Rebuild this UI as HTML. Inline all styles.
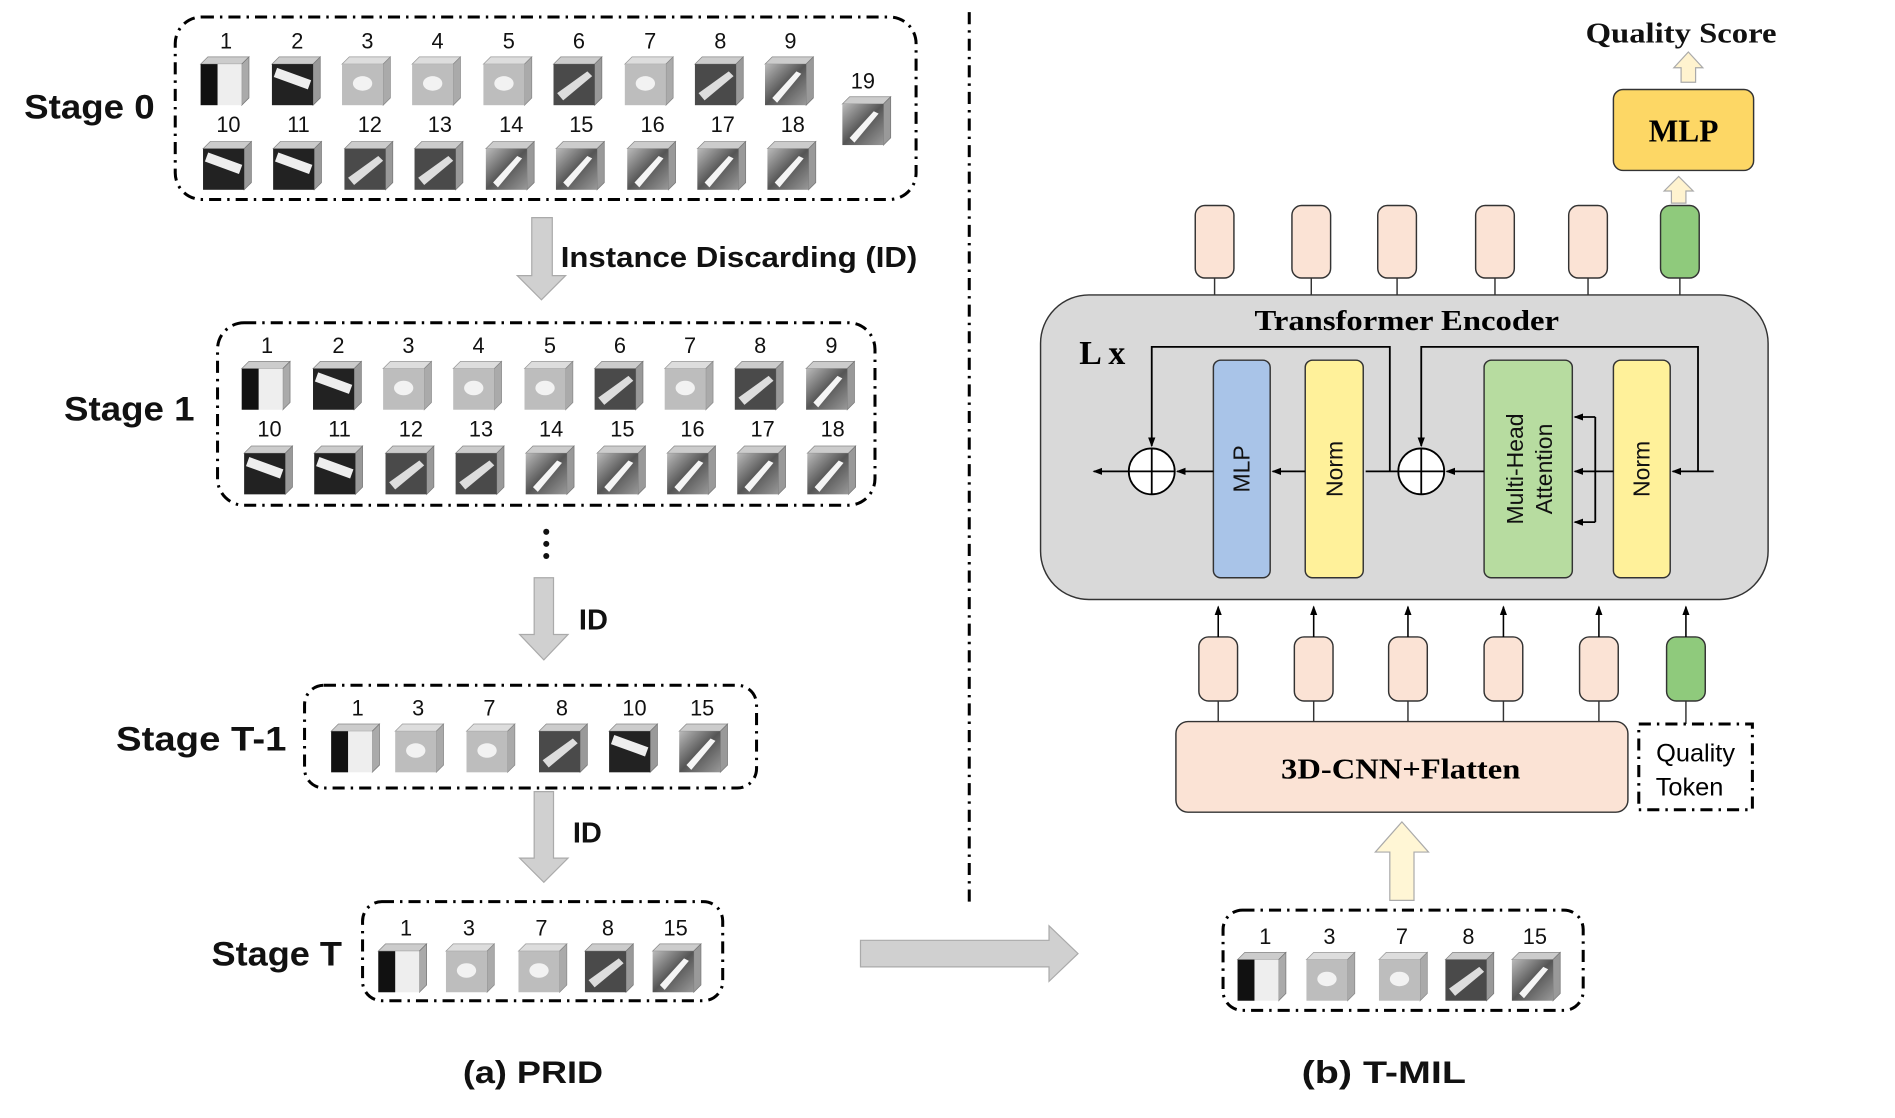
<!DOCTYPE html>
<html><head><meta charset="utf-8"><style>html,body{margin:0;padding:0;background:#fff}svg{display:block}</style></head>
<body>
<svg width="1895" height="1118" viewBox="0 0 1568 925" xmlns="http://www.w3.org/2000/svg" font-family="Liberation Sans, sans-serif">
<defs>
<marker id="ah" markerWidth="8" markerHeight="8" refX="7" refY="4" orient="auto" markerUnits="userSpaceOnUse"><path d="M0,1 L8,4 L0,7z" fill="#000"/></marker>
<linearGradient id="g1" x1="0" y1="0" x2="1" y2="1"><stop offset="0" stop-color="#bbb"/><stop offset="0.5" stop-color="#555"/><stop offset="1" stop-color="#999"/></linearGradient>
<g id="cubeA"><path d="M0,6 L6,0 L40,0 L34,6z" fill="#ccc" stroke="#888" stroke-width="0.6"/><path d="M34,6 L40,0 L40,34 L34,40z" fill="#999" stroke="#777" stroke-width="0.6"/><rect x="0" y="6" width="34" height="34" fill="#4a4a4a"/><path d="M3,30 L28,12 L32,16 L8,36z" fill="#ddd"/></g>
<g id="cubeB"><path d="M0,6 L6,0 L40,0 L34,6z" fill="#ddd" stroke="#999" stroke-width="0.6"/><path d="M34,6 L40,0 L40,34 L34,40z" fill="#aaa" stroke="#888" stroke-width="0.6"/><rect x="0" y="6" width="34" height="34" fill="#bdbdbd"/><ellipse cx="17" cy="22" rx="8" ry="6" fill="#f2f2f2"/></g>
<g id="cubeC"><path d="M0,6 L6,0 L40,0 L34,6z" fill="#ccc" stroke="#888" stroke-width="0.6"/><path d="M34,6 L40,0 L40,34 L34,40z" fill="#999" stroke="#777" stroke-width="0.6"/><rect x="0" y="6" width="34" height="34" fill="#222"/><rect x="2" y="14" width="30" height="8" fill="#eee" transform="rotate(20 17 18)"/></g>
<g id="cubeD"><path d="M0,6 L6,0 L40,0 L34,6z" fill="#ccc" stroke="#888" stroke-width="0.6"/><path d="M34,6 L40,0 L40,34 L34,40z" fill="#aaa" stroke="#777" stroke-width="0.6"/><rect x="0" y="6" width="34" height="34" fill="#eee"/><rect x="0" y="6" width="14" height="34" fill="#111"/></g>
<g id="cubeE"><path d="M0,6 L6,0 L40,0 L34,6z" fill="#ccc" stroke="#888" stroke-width="0.6"/><path d="M34,6 L40,0 L40,34 L34,40z" fill="#999" stroke="#777" stroke-width="0.6"/><rect x="0" y="6" width="34" height="34" fill="url(#g1)"/><path d="M6,34 L26,12 L30,14 L10,38z" fill="#f5f5f5"/></g>
</defs>
<g fill="none" stroke="#000" stroke-width="2.5" stroke-dasharray="10,5,2,5">
<rect x="145" y="14" width="613" height="151" rx="22"/>
<rect x="180" y="267" width="544" height="151" rx="22"/>
<rect x="252" y="567" width="374" height="85" rx="16"/>
<rect x="300" y="746" width="298" height="82" rx="16"/>
<rect x="1012" y="753" width="298" height="83" rx="16"/>
<line x1="802" y1="10" x2="802" y2="750"/>
</g>
<g font-size="18" fill="#111" text-anchor="middle">
<text x="187" y="40">1</text><text x="246" y="40">2</text><text x="304" y="40">3</text><text x="362" y="40">4</text><text x="421" y="40">5</text><text x="479" y="40">6</text><text x="538" y="40">7</text><text x="596" y="40">8</text><text x="654" y="40">9</text>
<text x="189" y="109">10</text><text x="247" y="109">11</text><text x="306" y="109">12</text><text x="364" y="109">13</text><text x="423" y="109">14</text><text x="481" y="109">15</text><text x="540" y="109">16</text><text x="598" y="109">17</text><text x="656" y="109">18</text><text x="714" y="73">19</text>
<text x="221" y="292">1</text><text x="280" y="292">2</text><text x="338" y="292">3</text><text x="396" y="292">4</text><text x="455" y="292">5</text><text x="513" y="292">6</text><text x="571" y="292">7</text><text x="629" y="292">8</text><text x="688" y="292">9</text>
<text x="223" y="361">10</text><text x="281" y="361">11</text><text x="340" y="361">12</text><text x="398" y="361">13</text><text x="456" y="361">14</text><text x="515" y="361">15</text><text x="573" y="361">16</text><text x="631" y="361">17</text><text x="689" y="361">18</text>
<text x="296" y="592">1</text><text x="346" y="592">3</text><text x="405" y="592">7</text><text x="465" y="592">8</text><text x="525" y="592">10</text><text x="581" y="592">15</text>
<text x="336" y="774">1</text><text x="388" y="774">3</text><text x="448" y="774">7</text><text x="503" y="774">8</text><text x="559" y="774">15</text>
<text x="1047" y="781">1</text><text x="1100" y="781">3</text><text x="1160" y="781">7</text><text x="1215" y="781">8</text><text x="1270" y="781">15</text>
</g>
<use href="#cubeD" x="166" y="47"/><use href="#cubeC" x="225" y="47"/><use href="#cubeB" x="283" y="47"/><use href="#cubeB" x="341" y="47"/><use href="#cubeB" x="400" y="47"/><use href="#cubeA" x="458" y="47"/><use href="#cubeB" x="517" y="47"/><use href="#cubeA" x="575" y="47"/><use href="#cubeE" x="633" y="47"/>
<use href="#cubeC" x="168" y="117"/><use href="#cubeC" x="226" y="117"/><use href="#cubeA" x="285" y="117"/><use href="#cubeA" x="343" y="117"/><use href="#cubeE" x="402" y="117"/><use href="#cubeE" x="460" y="117"/><use href="#cubeE" x="519" y="117"/><use href="#cubeE" x="577" y="117"/><use href="#cubeE" x="635" y="117"/><use href="#cubeE" x="697" y="80"/>
<use href="#cubeD" x="200" y="299"/><use href="#cubeC" x="259" y="299"/><use href="#cubeB" x="317" y="299"/><use href="#cubeB" x="375" y="299"/><use href="#cubeB" x="434" y="299"/><use href="#cubeA" x="492" y="299"/><use href="#cubeB" x="550" y="299"/><use href="#cubeA" x="608" y="299"/><use href="#cubeE" x="667" y="299"/>
<use href="#cubeC" x="202" y="369"/><use href="#cubeC" x="260" y="369"/><use href="#cubeA" x="319" y="369"/><use href="#cubeA" x="377" y="369"/><use href="#cubeE" x="435" y="369"/><use href="#cubeE" x="494" y="369"/><use href="#cubeE" x="552" y="369"/><use href="#cubeE" x="610" y="369"/><use href="#cubeE" x="668" y="369"/>
<use href="#cubeD" x="274" y="599"/><use href="#cubeB" x="327" y="599"/><use href="#cubeB" x="386" y="599"/><use href="#cubeA" x="446" y="599"/><use href="#cubeC" x="504" y="599"/><use href="#cubeE" x="562" y="599"/>
<use href="#cubeD" x="313" y="781"/><use href="#cubeB" x="369" y="781"/><use href="#cubeB" x="429" y="781"/><use href="#cubeA" x="484" y="781"/><use href="#cubeE" x="540" y="781"/>
<use href="#cubeD" x="1024" y="788"/><use href="#cubeB" x="1081" y="788"/><use href="#cubeB" x="1141" y="788"/><use href="#cubeA" x="1196" y="788"/><use href="#cubeE" x="1251" y="788"/>
<g font-weight="bold" font-size="28" fill="#111" lengthAdjust="spacingAndGlyphs">
<text x="20" y="98" textLength="108" lengthAdjust="spacingAndGlyphs">Stage 0</text><text x="53" y="348" textLength="108" lengthAdjust="spacingAndGlyphs">Stage 1</text><text x="96" y="621" textLength="141" lengthAdjust="spacingAndGlyphs">Stage T-1</text><text x="175" y="799" textLength="108" lengthAdjust="spacingAndGlyphs">Stage T</text>
</g>
<g font-size="24" fill="#111" font-weight="bold">
<text x="464" y="221" textLength="295" lengthAdjust="spacingAndGlyphs">Instance Discarding (ID)</text><text x="479" y="521">ID</text><text x="474" y="697">ID</text>
</g>
<g fill="#111"><circle cx="452" cy="440" r="2.5"/><circle cx="452" cy="450" r="2.5"/><circle cx="452" cy="460" r="2.5"/></g>
<g fill="#d0d0d0" stroke="#aaa" stroke-width="1">
<path d="M440,180 L457,180 L457,228 L468,228 L448,248 L428,228 L440,228z"/>
<path d="M442,478 L458,478 L458,525 L470,525 L450,546 L430,525 L442,525z"/>
<path d="M442,655 L458,655 L458,710 L470,710 L450,730 L430,710 L442,710z"/>
<path d="M712,778 L868,778 L868,766 L892,789 L868,812 L868,800 L712,800z"/>
</g>
<g font-size="26" fill="#111" font-weight="bold"><text x="383" y="896" textLength="116" lengthAdjust="spacingAndGlyphs">(a) PRID</text><text x="1077" y="896" textLength="136" lengthAdjust="spacingAndGlyphs">(b) T-MIL</text></g>
<text x="1312" y="35" font-size="24" font-family="Liberation Serif, serif" font-weight="bold" fill="#111" textLength="158" lengthAdjust="spacingAndGlyphs">Quality Score</text>
<path d="M1391,68 L1391,56 L1385,56 L1397,43 L1409,56 L1403,56 L1403,68z" fill="#fff3cf" stroke="#aaa"/>
<rect x="1335" y="74" width="116" height="67" rx="8" fill="#fdd765" stroke="#333" stroke-width="1.2"/>
<text x="1393" y="117" font-family="Liberation Serif, serif" font-weight="bold" font-size="26" text-anchor="middle">MLP</text>
<path d="M1383,168 L1383,158 L1377,158 L1389,146 L1401,158 L1395,158 L1395,168z" fill="#fff3cf" stroke="#aaa"/>
<g stroke="#333" stroke-width="1.2">
<rect x="989" y="170" width="32" height="60" rx="8" fill="#fbe3d5"/><rect x="1069" y="170" width="32" height="60" rx="8" fill="#fbe3d5"/><rect x="1140" y="170" width="32" height="60" rx="8" fill="#fbe3d5"/><rect x="1221" y="170" width="32" height="60" rx="8" fill="#fbe3d5"/><rect x="1298" y="170" width="32" height="60" rx="8" fill="#fbe3d5"/><rect x="1374" y="170" width="32" height="60" rx="8" fill="#8fca7c"/>
<line x1="1005" y1="230" x2="1005" y2="244"/><line x1="1085" y1="230" x2="1085" y2="244"/><line x1="1156" y1="230" x2="1156" y2="244"/><line x1="1237" y1="230" x2="1237" y2="244"/><line x1="1314" y1="230" x2="1314" y2="244"/><line x1="1390" y1="230" x2="1390" y2="244"/>
<rect x="861" y="244" width="602" height="252" rx="40" fill="#d9d9d9"/>
<rect x="1004" y="298" width="47" height="180" rx="6" fill="#a9c4e8"/>
<rect x="1080" y="298" width="48" height="180" rx="6" fill="#fff19a"/>
<rect x="1228" y="298" width="73" height="180" rx="6" fill="#b7dca0"/>
<rect x="1335" y="298" width="47" height="180" rx="6" fill="#fff19a"/>
</g>
<text x="1038" y="273" font-family="Liberation Serif, serif" font-weight="bold" font-size="24" textLength="252" lengthAdjust="spacingAndGlyphs">Transformer Encoder</text>
<text x="893" y="301" font-family="Liberation Serif, serif" font-weight="bold" font-size="28">L x</text>
<g font-size="19" fill="#111" text-anchor="middle">
<text transform="translate(1034,388) rotate(-90)">MLP</text>
<text transform="translate(1111,388) rotate(-90)">Norm</text>
<text transform="translate(1260,388) rotate(-90)">Multi-Head</text>
<text transform="translate(1284,388) rotate(-90)">Attention</text>
<text transform="translate(1365,388) rotate(-90)">Norm</text>
</g>
<g stroke="#000" stroke-width="1.5" fill="none">
<circle cx="953" cy="390" r="19" fill="#fff"/><line x1="934" y1="390" x2="972" y2="390"/><line x1="953" y1="371" x2="953" y2="409"/>
<circle cx="1176" cy="390" r="19" fill="#fff"/><line x1="1157" y1="390" x2="1195" y2="390"/><line x1="1176" y1="371" x2="1176" y2="409"/>
<line x1="1418" y1="390" x2="1384" y2="390" marker-end="url(#ah)"/>
<polyline points="1405,390 1405,287 1176,287 1176,369" marker-end="url(#ah)"/>
<line x1="1335" y1="390" x2="1303" y2="390" marker-end="url(#ah)"/>
<line x1="1320" y1="345" x2="1320" y2="432"/>
<line x1="1320" y1="345" x2="1303" y2="345" marker-end="url(#ah)"/>
<line x1="1320" y1="432" x2="1303" y2="432" marker-end="url(#ah)"/>
<line x1="1228" y1="390" x2="1197" y2="390" marker-end="url(#ah)"/>
<line x1="1157" y1="390" x2="1130" y2="390"/>
<line x1="1080" y1="390" x2="1053" y2="390" marker-end="url(#ah)"/>
<polyline points="1150,390 1150,287 953,287 953,369" marker-end="url(#ah)"/>
<line x1="1004" y1="390" x2="974" y2="390" marker-end="url(#ah)"/>
<line x1="934" y1="390" x2="905" y2="390" marker-end="url(#ah)"/>
</g>
<g stroke="#333" stroke-width="1.2">
<rect x="992" y="527" width="32" height="53" rx="8" fill="#fbe3d5"/><rect x="1071" y="527" width="32" height="53" rx="8" fill="#fbe3d5"/><rect x="1149" y="527" width="32" height="53" rx="8" fill="#fbe3d5"/><rect x="1228" y="527" width="32" height="53" rx="8" fill="#fbe3d5"/><rect x="1307" y="527" width="32" height="53" rx="8" fill="#fbe3d5"/><rect x="1379" y="527" width="32" height="53" rx="8" fill="#8fca7c"/>
<line x1="1008" y1="580" x2="1008" y2="597"/><line x1="1087" y1="580" x2="1087" y2="597"/><line x1="1165" y1="580" x2="1165" y2="597"/><line x1="1244" y1="580" x2="1244" y2="597"/><line x1="1323" y1="580" x2="1323" y2="597"/><line x1="1395" y1="580" x2="1395" y2="599"/>
</g>
<g stroke="#000" stroke-width="1.3">
<line x1="1008" y1="527" x2="1008" y2="502" marker-end="url(#ah)"/><line x1="1087" y1="527" x2="1087" y2="502" marker-end="url(#ah)"/><line x1="1165" y1="527" x2="1165" y2="502" marker-end="url(#ah)"/><line x1="1244" y1="527" x2="1244" y2="502" marker-end="url(#ah)"/><line x1="1323" y1="527" x2="1323" y2="502" marker-end="url(#ah)"/><line x1="1395" y1="527" x2="1395" y2="502" marker-end="url(#ah)"/>
</g>
<rect x="973" y="597" width="374" height="75" rx="10" fill="#fbe3d5" stroke="#333" stroke-width="1.2"/>
<text x="1060" y="644" font-family="Liberation Serif, serif" font-weight="bold" font-size="24" textLength="198" lengthAdjust="spacingAndGlyphs">3D-CNN+Flatten</text>
<rect x="1356" y="599" width="94" height="71" fill="none" stroke="#000" stroke-width="2.5" stroke-dasharray="10,5,2,5"/>
<text x="1403" y="630" font-size="21" text-anchor="middle">Quality</text><text x="1398" y="658" font-size="21" text-anchor="middle">Token</text>
<path d="M1150,745 L1150,705 L1138,705 L1160,680 L1182,705 L1170,705 L1170,745z" fill="#fff6d5" stroke="#aaa"/>
</svg>
</body></html>
